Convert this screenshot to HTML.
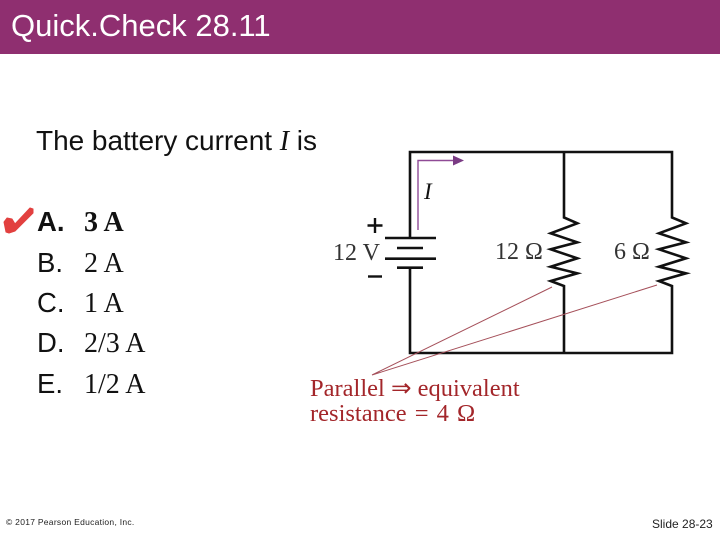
<!DOCTYPE html>
<html>
<head>
<meta charset="utf-8">
<style>
html,body{margin:0;padding:0;background:#fff}
body{width:720px;height:540px;overflow:hidden;position:relative}
svg{position:absolute;left:0;top:0}
</style>
</head>
<body>
<svg width="720" height="540" viewBox="0 0 720 540" xmlns="http://www.w3.org/2000/svg">
<rect x="0" y="0" width="720" height="54" fill="#8f2f70"/>
<text x="11" y="36" font-family="Liberation Sans, sans-serif" font-size="31" fill="#fff">Quick.Check 28.11</text>
<text x="36" y="150" font-family="Liberation Sans, sans-serif" font-size="28" textLength="281" fill="#111">The battery current <tspan font-family="Liberation Serif, serif" font-style="italic">I</tspan> is</text>

<path d="M4 222L7 218L12 219L15 224L30 208L33 209L33 213L15 231L9 233L6 232Z" fill="#e2403f" stroke="#e2403f" stroke-width="1" stroke-linejoin="round"/>

<g font-family="Liberation Sans, sans-serif" font-size="27.500" fill="#111">
<text x="37" y="231" font-weight="bold">A.</text>
<text x="37" y="272">B.</text>
<text x="37" y="312">C.</text>
<text x="37" y="352">D.</text>
<text x="37" y="393">E.</text>
</g>
<g font-family="Liberation Serif, serif" font-size="28" fill="#111">
<text x="84" y="231" font-weight="bold">3 A</text>
<text x="84" y="272">2 A</text>
<text x="84" y="312">1 A</text>
<text x="84" y="352">2/3 A</text>
<text x="84" y="393">1/2 A</text>
</g>

<g fill="none" stroke="#111" stroke-width="2.600">
<path d="M410 238V152H672V217.500L686 223.300L659 233.300L686 242.300L659 249.300L686 258.300L659 266.700L686 273.300L659 281L672 286V353H410V268"/>
<path d="M564 152V217.500L577.300 223.300L550.700 233.300L577.300 242.300L550.700 249.300L577.300 258.300L550.700 266.700L577.300 273.300L550.700 281L564 286V353"/>
<path d="M385 238H436M397 248H423M385 258.700H436M397 267.700H423"/>
</g>
<path d="M375 218V233M367.500 225.500H382.500" stroke="#111" stroke-width="2.400" fill="none"/>
<path d="M368 276.500H382" stroke="#111" stroke-width="2.400" fill="none"/>

<path d="M418 230V160.500H455" fill="none" stroke="#8f4a96" stroke-width="1.400"/>
<path d="M453 155.500L464 160.500L453 165.500Z" fill="#7a3b84"/>
<text x="424" y="199" font-family="Liberation Serif, serif" font-style="italic" font-size="23" fill="#111">I</text>

<g font-family="Liberation Serif, serif" font-size="24" fill="#333">
<text x="333" y="260">12 V</text>
<text x="495" y="259">12 Ω</text>
<text x="614" y="259">6 Ω</text>
</g>

<path d="M372 375L552 287M372 375L657 285" fill="none" stroke="#a5505a" stroke-width="1"/>

<g font-family="Liberation Serif, serif" font-size="24.500" fill="#a3262a">
<text x="310" y="396">Parallel ⇒ equivalent</text>
<text x="310" y="421" word-spacing="2">resistance = 4 Ω</text>
</g>

<text x="6" y="525" font-family="Liberation Sans, sans-serif" font-size="8.500" letter-spacing="0.280" fill="#222">© 2017 Pearson Education, Inc.</text>
<text x="652" y="528" font-family="Liberation Sans, sans-serif" font-size="12" fill="#222">Slide 28-23</text>
</svg>
</body>
</html>
